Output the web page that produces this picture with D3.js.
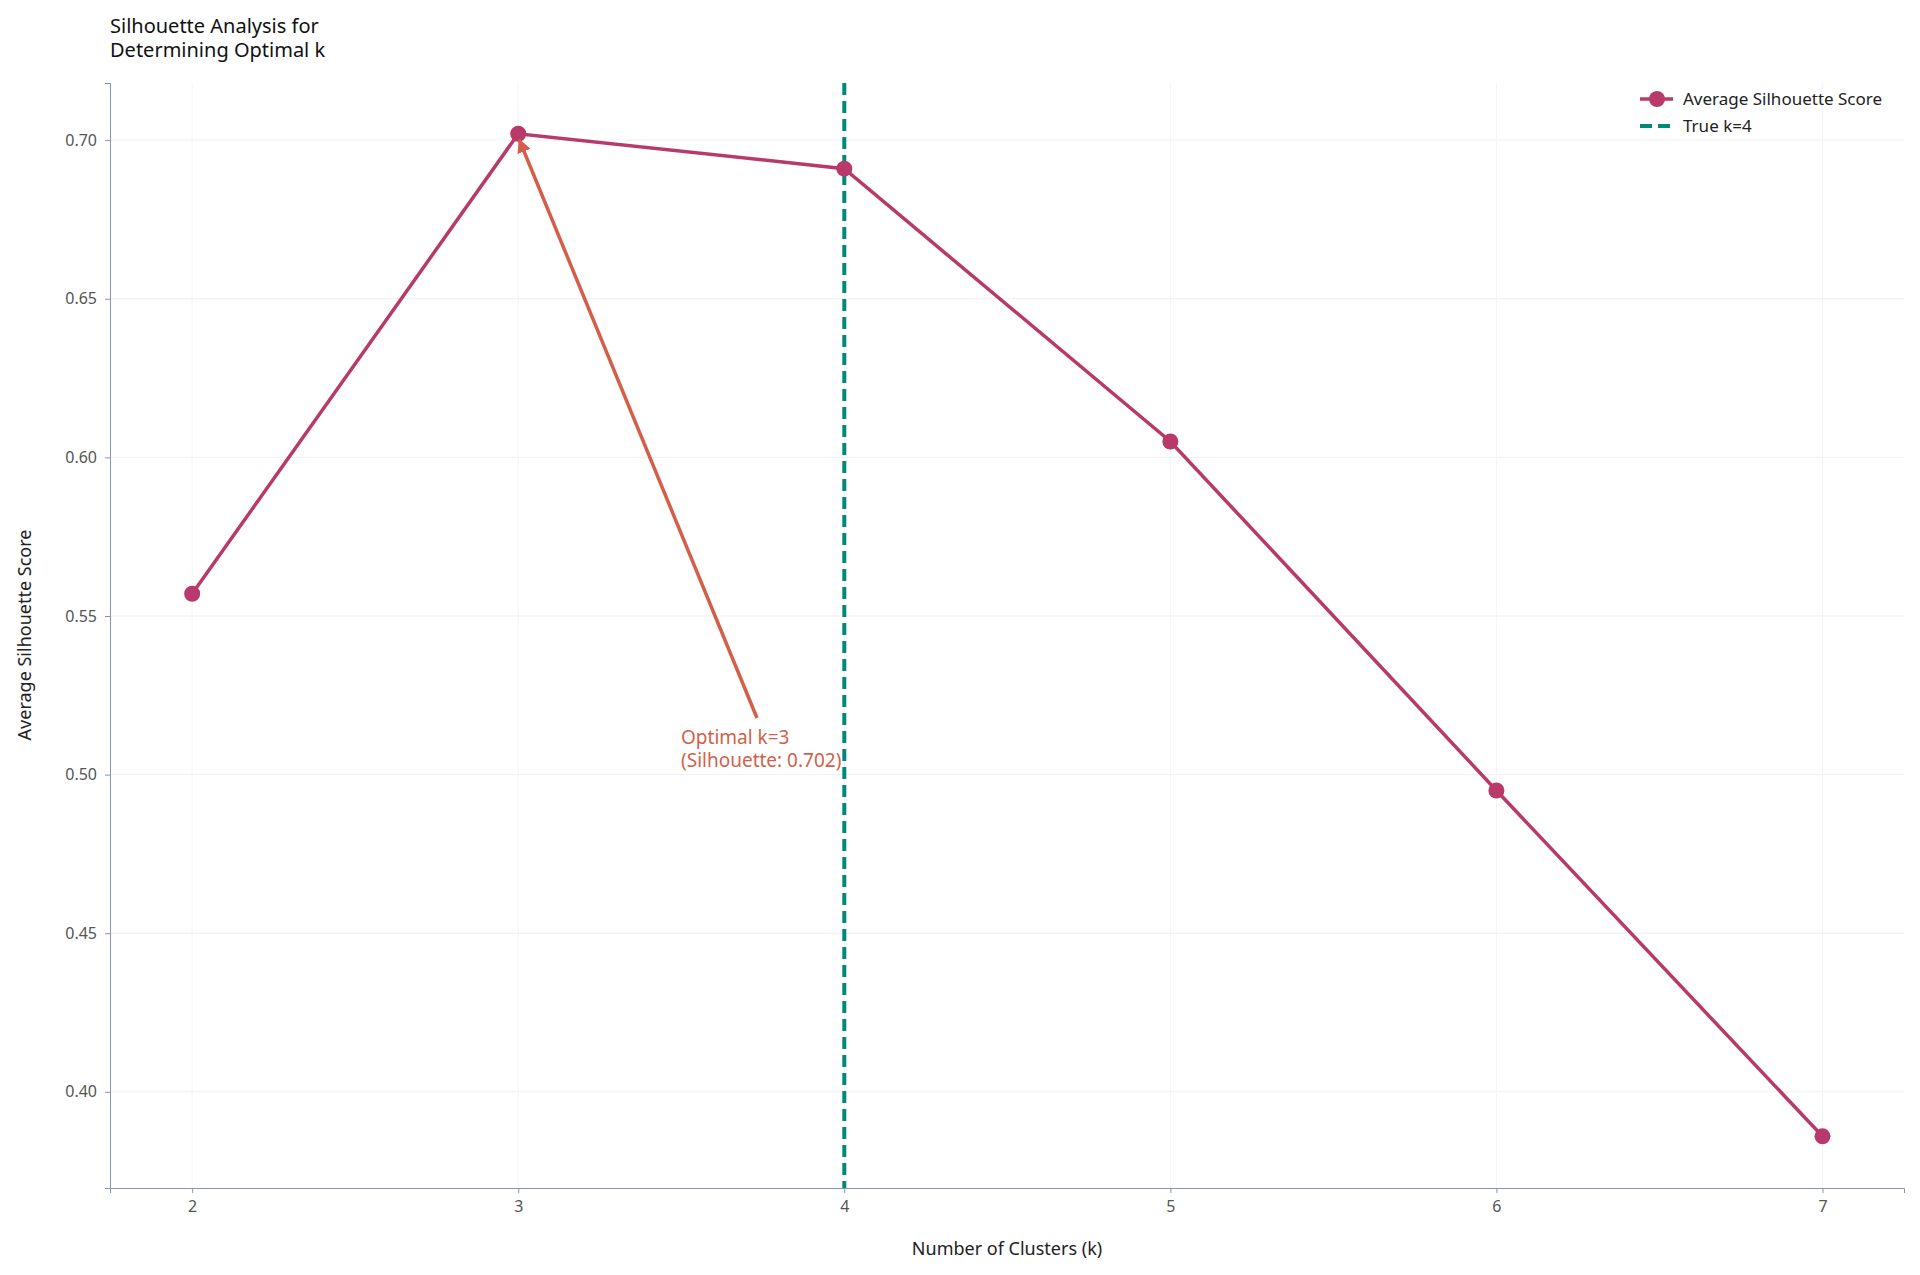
<!DOCTYPE html><html><head><meta charset="utf-8"><script src="https://cdn.jsdelivr.net/npm/d3@7"></script>
<style>body{margin:0;background:#fff}text{font-family:"Noto Sans",sans-serif}</style></head><body><svg id="c" width="1920" height="1275"></svg><script>
const ks=[2,3,4,5,6,7];
const scores=[0.557,0.702,0.691,0.605,0.495,0.386];
const yTicks=[0.40,0.45,0.50,0.55,0.60,0.65,0.70];
const trueK=4;
const svg=d3.select("#c");
const x=d3.scaleLinear().domain([1.748,7.25]).range([110,1904]);
const y=d3.scaleLinear().domain([0.3697,0.718]).range([1188,83]);
const g=svg.append("g");
yTicks.forEach(t=>g.append("line").attr("x1",110).attr("x2",1904).attr("y1",y(t)).attr("y2",y(t)).attr("stroke","#f0f0f4"));
ks.forEach(t=>g.append("line").attr("y1",83).attr("y2",1188).attr("x1",x(t)).attr("x2",x(t)).attr("stroke","#f4f4f7"));
const xa=svg.append("g").attr("transform","translate(0,1188)").call(d3.axisBottom(x).tickValues(ks).tickFormat(d3.format("d")).tickSize(5).tickPadding(8));
const ya=svg.append("g").attr("transform","translate(110,0)").call(d3.axisLeft(y).tickValues(yTicks).tickFormat(d3.format(".2f")).tickSize(5).tickPadding(8));
[xa,ya].forEach(a=>{a.selectAll("path,line").attr("stroke","#8a94b0");a.selectAll("text").attr("fill","#555").style("font-size","16px").style("font-family","Noto Sans");});
svg.append("line").attr("x1",x(trueK)).attr("x2",x(trueK)).attr("y1",83).attr("y2",1188).attr("stroke","#00897b").attr("stroke-width",4).attr("stroke-dasharray","12,6");
const col="#b83a6b";
svg.append("path").datum(ks.map((k,i)=>[k,scores[i]])).attr("d",d3.line().x(d=>x(d[0])).y(d=>y(d[1]))).attr("fill","none").attr("stroke",col).attr("stroke-width",3.5);
svg.selectAll("circle.p").data(ks).enter().append("circle").attr("cx",d=>x(d)).attr("cy",(d,i)=>y(scores[i])).attr("r",8).attr("fill",col);
// annotation
const ac="#d35f4a";
svg.append("defs").append("marker").attr("id","ah").attr("viewBox","0 0 10 10").attr("refX",9).attr("refY",5).attr("markerWidth",4).attr("markerHeight",4).attr("orient","auto").append("path").attr("d","M0,0L10,5L0,10z").attr("fill",ac);
svg.append("line").attr("x1",757).attr("y1",718).attr("x2",x(3)+1).attr("y2",y(0.702)+6).attr("stroke",ac).attr("stroke-width",3.5).attr("marker-end","url(#ah)");
const at=svg.append("text").attr("fill",ac).style("font-size","19px");
at.append("tspan").attr("x",681).attr("y",744).text("Optimal k=3");
at.append("tspan").attr("x",681).attr("y",767).text("(Silhouette: 0.702)");
// titles
const tt=svg.append("text").attr("fill","#111").style("font-size","20px");
tt.append("tspan").attr("x",110).attr("y",33).text("Silhouette Analysis for");
tt.append("tspan").attr("x",110).attr("y",57).text("Determining Optimal k");
svg.append("text").attr("x",1007).attr("y",1255).attr("text-anchor","middle").style("font-size","18px").attr("fill","#222").text("Number of Clusters (k)");
svg.append("text").attr("transform","translate(31,635) rotate(-90)").attr("text-anchor","middle").style("font-size","18px").attr("fill","#222").text("Average Silhouette Score");
// legend
const L=svg.append("g");
L.append("line").attr("x1",1640).attr("x2",1673).attr("y1",99).attr("y2",99).attr("stroke",col).attr("stroke-width",3.5);
L.append("circle").attr("cx",1657).attr("cy",99).attr("r",8).attr("fill",col);
L.append("text").attr("x",1683).attr("y",105).style("font-size","17px").attr("fill","#222").text("Average Silhouette Score");
L.append("line").attr("x1",1640).attr("x2",1673).attr("y1",126).attr("y2",126).attr("stroke","#00897b").attr("stroke-width",4).attr("stroke-dasharray","12,6");
L.append("text").attr("x",1683).attr("y",132).style("font-size","17px").attr("fill","#222").text("True k=4");
</script></body></html>
